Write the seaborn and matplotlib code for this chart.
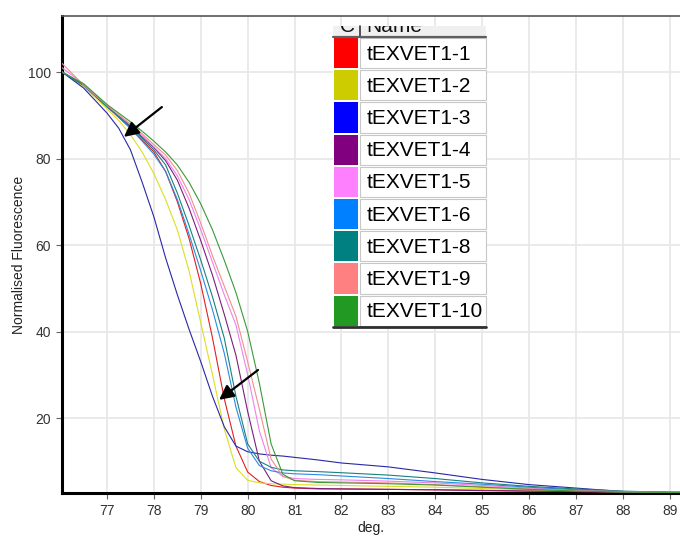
import matplotlib
matplotlib.use("Agg")
import matplotlib.pyplot as plt
from matplotlib.patches import Rectangle
import seaborn as sns
import pandas as pd

# ---------------- data ----------------
temps = [76.04, 76.5, 77.0, 77.25, 77.5, 77.75, 78.0, 78.25, 78.5, 78.75, 79.0,
         79.25, 79.5, 79.75, 80.0, 80.25, 80.5, 80.75, 81.0, 81.5, 82.0, 83.0,
         84.0, 85.0, 86.0, 87.0, 88.0, 89.0, 89.25]

tEXVET1_1 = [100, 96.8, 92.0, 89.5, 87.0, 84.3, 81.5, 77.0, 70.0, 61.5, 51.0,
             38.5, 24.5, 13.5, 7.5, 5.3, 4.4, 4.0, 3.8, 3.6, 3.6, 3.5,
             3.4, 3.3, 3.1, 3.0, 2.9, 2.8, 2.8]
tEXVET1_2 = [100, 96.6, 91.5, 88.8, 85.5, 81.5, 76.5, 70.5, 63.5, 54.0, 42.0,
             30.0, 17.5, 8.5, 5.6, 5.0, 4.8, 4.7, 4.6, 4.5, 4.4, 4.2,
             4.0, 3.7, 3.4, 3.1, 2.9, 2.8, 2.8]
tEXVET1_3 = [100, 96.3, 90.5, 87.0, 82.0, 74.5, 66.5, 57.0, 48.5, 40.5, 33.0,
             25.0, 18.0, 13.5, 12.2, 11.7, 11.4, 11.2, 10.9, 10.3, 9.6, 8.7,
             7.3, 5.8, 4.6, 3.8, 3.0, 2.8, 2.8]
tEXVET1_4 = [100, 97.0, 92.0, 89.8, 87.5, 85.0, 82.5, 79.5, 75.0, 68.5, 61.0,
             53.0, 44.0, 34.5, 21.5, 10.0, 5.5, 4.3, 3.9, 3.7, 3.6, 3.5,
             3.4, 3.2, 3.1, 3.0, 2.9, 2.8, 2.8]
tEXVET1_5 = [101, 97.2, 92.3, 90.0, 87.8, 85.3, 82.7, 80.0, 76.0, 70.5, 63.5,
             56.0, 48.5, 41.5, 30.0, 17.0, 8.5, 6.5, 6.0, 5.8, 5.7, 5.4,
             5.0, 4.4, 3.8, 3.3, 3.0, 2.8, 2.8]
tEXVET1_6 = [100, 97.0, 92.0, 89.6, 87.0, 84.0, 81.0, 77.0, 70.5, 62.5, 54.0,
             45.0, 35.0, 22.5, 13.0, 9.0, 7.8, 7.3, 7.1, 6.9, 6.6, 6.0,
             5.3, 4.7, 4.0, 3.4, 3.0, 2.8, 2.8]
tEXVET1_8 = [100, 97.0, 92.0, 89.7, 87.3, 84.7, 82.0, 78.5, 72.0, 64.5, 56.5,
             48.0, 38.5, 25.0, 14.0, 10.0, 8.6, 8.0, 7.8, 7.6, 7.35, 6.8,
             6.0, 5.0, 4.2, 3.6, 3.1, 2.8, 2.8]
tEXVET1_9 = [102, 97.0, 92.3, 90.1, 88.0, 85.7, 83.2, 80.8, 77.2, 72.0, 65.0,
             57.5, 50.5, 43.5, 33.0, 22.0, 10.5, 6.5, 5.6, 5.3, 5.2, 5.0,
             4.6, 4.1, 3.6, 3.2, 3.0, 2.8, 2.8]
tEXVET1_10 = [100, 97.3, 92.5, 90.5, 88.5, 86.3, 84.0, 81.5, 78.5, 74.5, 69.5,
              63.5, 56.5, 49.0, 40.0, 28.0, 14.0, 7.0, 5.5, 5.1, 5.0, 4.8,
              4.5, 4.0, 3.5, 3.1, 2.9, 2.8, 2.8]

sample_names = ["tEXVET1-1", "tEXVET1-2", "tEXVET1-3", "tEXVET1-4", "tEXVET1-5",
                "tEXVET1-6", "tEXVET1-8", "tEXVET1-9", "tEXVET1-10"]
sample_values = [tEXVET1_1, tEXVET1_2, tEXVET1_3, tEXVET1_4, tEXVET1_5,
                 tEXVET1_6, tEXVET1_8, tEXVET1_9, tEXVET1_10]
sample_colors = ["#FF0000", "#CCCC00", "#0000FF", "#800080", "#FF80FF",
                 "#0080FF", "#008080", "#FF8080", "#229922"]
line_colors = ["#E02020", "#DDDD22", "#2828A8", "#7A207A", "#F080F0",
               "#2A8AE0", "#1A8080", "#F09090", "#3A9A3A"]

x_ticks = [77, 78, 79, 80, 81, 82, 83, 84, 85, 86, 87, 88, 89]
y_ticks = [20, 40, 60, 80, 100]
x_label = "deg."
y_label = "Normalised Fluorescence"

# arrows (tail -> head), data coordinates
arrow_tails = [(78.17, 91.9), (80.22, 31.1)]
arrow_heads = [(77.36, 85.0), (79.39, 24.2)]

# ---------------- figure ----------------
sns.set_theme(style="white")
plt.rcParams["font.family"] = ["Liberation Sans", "DejaVu Sans"]

W, H = 680, 538
fig = plt.figure(figsize=(W / 100, H / 100), dpi=100)
ax = fig.add_axes([62 / W, (H - 493) / H, (W - 62) / W, (493 - 16) / H])

rows = []
for name, vals in zip(sample_names, sample_values):
    for t, v in zip(temps, vals):
        rows.append({"deg": t, "fluor": v, "sample": name})
df = pd.DataFrame(rows)

sns.lineplot(data=df, x="deg", y="fluor", hue="sample", hue_order=sample_names,
             palette=dict(zip(sample_names, line_colors)), linewidth=0.8,
             legend=False, ax=ax, sort=False, zorder=3)

ax.set_xlim(76.04, 89.22)
ax.set_ylim(2.66, 112.95)
ax.set_xticks(x_ticks)
ax.set_yticks(y_ticks)
ax.grid(True, color="#e8e8e8", linewidth=1.3, zorder=0)
ax.set_axisbelow(True)
ax.tick_params(axis="both", which="both", labelsize=10, labelcolor="#333333",
               length=4, width=0.8, color="#666666", direction="out",
               bottom=True, left=True, pad=4)

ax.set_xlabel(x_label, fontsize=10, color="#222222", labelpad=2)
ax.set_ylabel(y_label, fontsize=10, color="#222222")
ax.yaxis.set_label_coords(-0.058, 0.5)

for side in ["left", "bottom"]:
    ax.spines[side].set_color("black")
    ax.spines[side].set_linewidth(2.2)
ax.spines["top"].set_color("#555555")
ax.spines["top"].set_linewidth(1.2)
ax.spines["right"].set_visible(False)

for (tx, ty), (hx, hy) in zip(arrow_tails, arrow_heads):
    ax.annotate("", xy=(hx, hy), xytext=(tx, ty),
                arrowprops=dict(arrowstyle="-|>", color="black", lw=1.6,
                                mutation_scale=22, shrinkA=0, shrinkB=0),
                zorder=5)

# ---------------- legend table (figure pixel coords, top-origin) ----------------
def fx(px):
    return px / W

def fy(py):
    return 1 - py / H

def rect(x0, y0, x1, y1, **kw):
    r = Rectangle((fx(x0), fy(y1)), fx(x1) - fx(x0), fy(y0) - fy(y1),
                  transform=fig.transFigure, **kw)
    fig.add_artist(r)
    return r

tx0, tsw, tx1 = 333, 359, 486
head_top, head_bot = 26, 37
row_h = 32.2

# header
rect(tx0, head_top, tx1, head_bot, facecolor="#f0f0f0", edgecolor="none", zorder=10)
clip = rect(tx0, head_top, tx1, head_bot, facecolor="none", edgecolor="none", zorder=10)
for label, xp in [("C", 340), ("Name", 366)]:
    t = fig.text(fx(xp), fy(31.5), label, fontsize=15, color="#111111",
                 va="baseline", ha="left", zorder=11)
    t.set_clip_path(clip)
fig.add_artist(plt.Line2D([fx(tsw + 1), fx(tsw + 1)], [fy(head_top), fy(head_bot)],
                          transform=fig.transFigure, color="#333333", lw=1.2, zorder=11))
fig.add_artist(plt.Line2D([fx(tx0), fx(tx1)], [fy(head_bot), fy(head_bot)],
                          transform=fig.transFigure, color="#606060", lw=1.6, zorder=12))

for i, (name, col) in enumerate(zip(sample_names, sample_colors)):
    top = head_bot + i * row_h
    bot = top + row_h
    rect(tx0, top, tx1, bot, facecolor="white", edgecolor="none", zorder=10)
    rect(tx0 + 1, top + 1, tsw - 1, bot - 1, facecolor=col, edgecolor="none", zorder=11)
    rect(tsw + 1, top + 1, tx1, bot - 1, facecolor="white", edgecolor="#c8c8c8",
         linewidth=0.8, zorder=11)
    fig.text(fx(367), fy((top + bot) / 2 + 1), name, fontsize=15, color="black",
             va="center", ha="left", zorder=12)

last_bot = head_bot + len(sample_names) * row_h
fig.add_artist(plt.Line2D([fx(tx0), fx(tx1)], [fy(last_bot), fy(last_bot)],
                          transform=fig.transFigure, color="#303030", lw=2.0, zorder=12))

fig.savefig("out.png", dpi=100)
